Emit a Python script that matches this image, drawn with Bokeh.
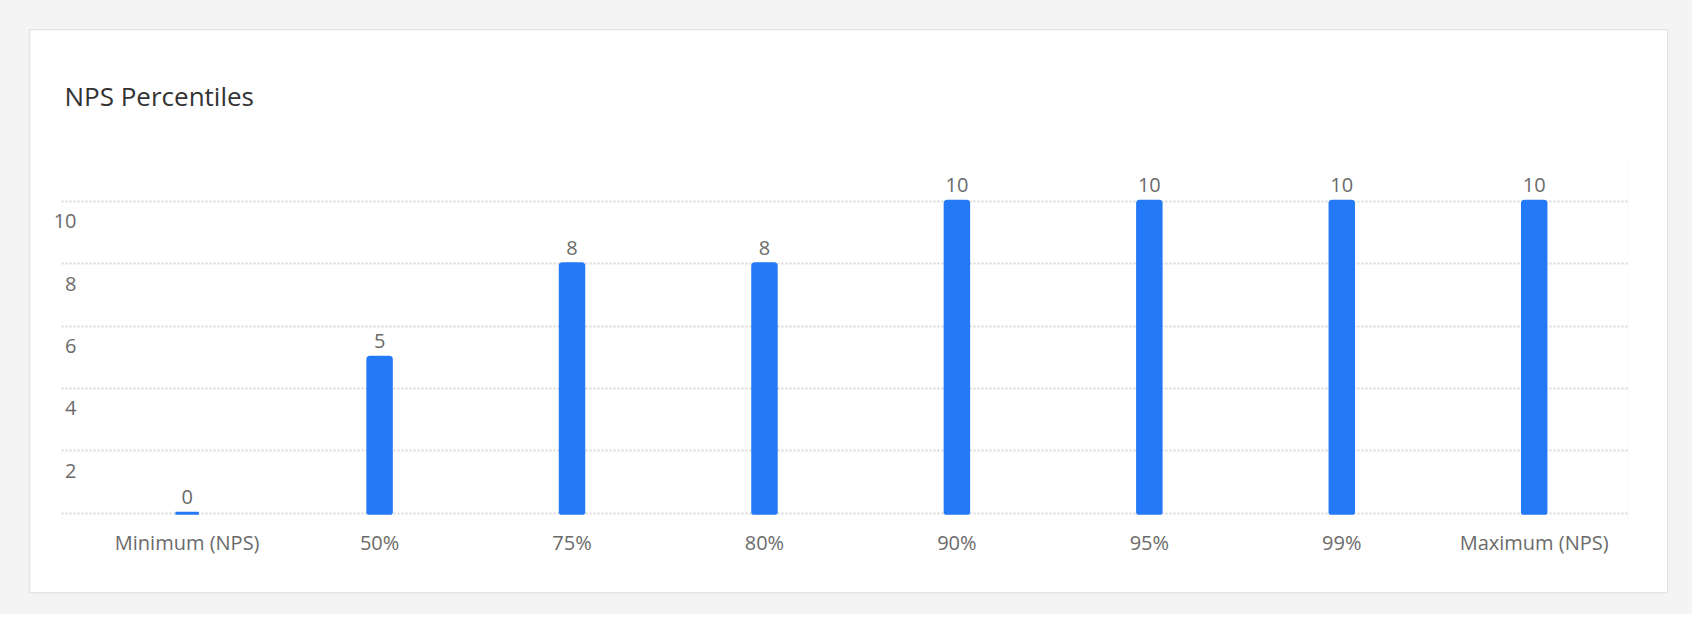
from bokeh.plotting import figure
from bokeh.models import Range1d, FixedTicker, LinearAxis, Grid, ColumnDataSource
from bokeh.layouts import column
from bokeh.embed import file_html
from bokeh.resources import INLINE
from bokeh.core.properties import value

# ---- data ----
categories = ["Minimum (NPS)", "50%", "75%", "80%", "90%", "95%", "99%", "Maximum (NPS)"]
values = [0, 5, 8, 8, 10, 10, 10, 10]
y_ticks = [2, 4, 6, 8, 10]
grid_ticks = [0, 2, 4, 6, 8, 10]
title_text = "NPS Percentiles"

FONT = "Open Sans"
BAR = "#2479f7"
LABEL_COLOR = "#6b6b6b"

xs = list(range(len(categories)))
src = ColumnDataSource(dict(x=xs, top=values, label=[str(v) for v in values]))

p = figure(width=1637, height=562,
           x_range=Range1d(-0.653, 7.49), y_range=Range1d(-0.2, 11.5),
           output_backend="svg", toolbar_location=None, y_axis_location=None,
           min_border_left=31, min_border_right=39, min_border_top=124, min_border_bottom=73)
p.outline_line_color = None
p.background_fill_color = "white"
p.border_fill_color = "white"

p.title.text = title_text
p.title.text_font = FONT
p.title.text_font_size = "26px"
p.title.text_font_style = "normal"
p.title.text_color = "#333333"
p.title.align = "left"
p.title.offset = 3
p.title.standoff = 82

for g in list(p.center):
    g.visible = False

grid = Grid(dimension=1, ticker=FixedTicker(ticks=grid_ticks),
            grid_line_color="#d8d8d8", grid_line_width=2, grid_line_dash="2 2")
p.add_layout(grid, "center")

# x axis
xa = p.xaxis[0]
xa.ticker = FixedTicker(ticks=xs)
xa.major_label_overrides = {i: c for i, c in zip(xs, categories)}
xa.axis_line_color = None
xa.major_tick_line_color = None
xa.minor_tick_line_color = None
xa.major_label_standoff = 3
xa.major_label_text_font = FONT
xa.major_label_text_font_size = "20px"
xa.major_label_text_color = LABEL_COLOR

# y axis labels sit just below their grid line
shift = 0.64
p.extra_y_ranges = {"lbl": Range1d(-0.2 + shift, 11.5 + shift)}
ya = LinearAxis(y_range_name="lbl", ticker=FixedTicker(ticks=y_ticks),
                axis_line_color=None, major_tick_line_color=None, minor_tick_line_color=None,
                major_label_standoff=-21,
                major_label_text_font=FONT, major_label_text_font_size="20px",
                major_label_text_color=LABEL_COLOR)
p.add_layout(ya, "left")

p.vbar(x="x", top="top", bottom=0, width=0.122, source=src,
       fill_color=BAR, line_color=BAR, line_width=3, border_radius=(2, 2, 0, 0))

p.text(x="x", y="top", text="label", source=src, text_align="center",
       text_baseline="bottom", y_offset=-9, text_font=value(FONT),
       text_font_size="20px", text_color=LABEL_COLOR)

p.margin = (30, 25, 22, 30)
p.styles = {"outline": "1px solid #e3e3e3", "box-shadow": "0 1px 4px rgba(0,0,0,0.05)"}

layout = column(p, styles={"background-color": "#f4f4f4"})

open("out.html", "w").write(file_html(layout, INLINE))
